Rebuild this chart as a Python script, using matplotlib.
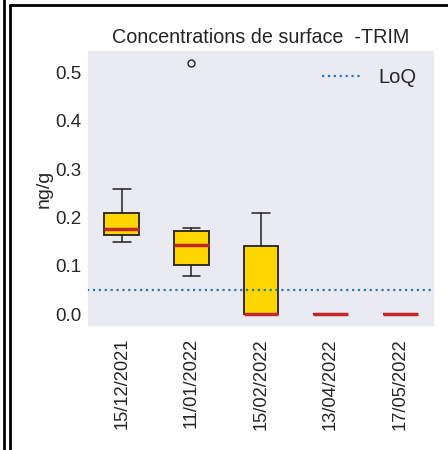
import matplotlib
matplotlib.use("Agg")
import matplotlib.pyplot as plt
import seaborn as sns
from matplotlib.lines import Line2D

dates = ["15/12/2021", "11/01/2022", "15/02/2022", "13/04/2022", "17/05/2022"]
whislo = [0.15, 0.08, 0.0, 0.0, 0.0]
q1 = [0.163, 0.102, 0.0, 0.0, 0.0]
med = [0.177, 0.144, 0.0, 0.0, 0.0]
q3 = [0.21, 0.172, 0.142, 0.0, 0.0]
whishi = [0.26, 0.179, 0.21, 0.0, 0.0]
fliers = [[], [0.52], [], [], []]
loq = 0.05

sns.set_theme(style="dark")
plt.rcParams['font.family'] = ['Liberation Sans', 'DejaVu Sans']

fig = plt.figure(figsize=(4.48, 4.5), dpi=100)
ax = fig.add_axes([87/448, 1-327/450, 348/448, 277/450])

stats = []
for i, d in enumerate(dates):
    stats.append(dict(label=d, whislo=whislo[i], q1=q1[i], med=med[i], q3=q3[i],
                      whishi=whishi[i], fliers=fliers[i]))

ax.bxp(stats, patch_artist=True,
       boxprops=dict(facecolor='#FFD700', edgecolor='#222222', linewidth=1.3),
       medianprops=dict(color='#C0282A', linewidth=2.5),
       whiskerprops=dict(color='#222222', linewidth=1.1),
       capprops=dict(color='#222222', linewidth=1.1),
       flierprops=dict(marker='o', markerfacecolor='none', markeredgecolor='#222222', markersize=5))

ax.axhline(loq, color='#2878B5', linestyle=':', linewidth=1.6, label='LoQ')
ax.set_ylim(-0.026, 0.546)
ax.set_xlim(0.5, 5.5)
ax.set_yticks([0.0, 0.1, 0.2, 0.3, 0.4, 0.5])
ax.tick_params(axis='y', labelsize=13.5, pad=4, length=0)
ax.tick_params(axis='x', labelsize=13.2, labelrotation=90, pad=8, length=0)
ax.set_ylabel('ng/g', fontsize=14, labelpad=2)
ax.set_title('Concentrations de surface  -TRIM', fontsize=14.2, pad=5)
ax.legend(loc='upper right', frameon=False, fontsize=14.5, handlelength=2.0)

fig.add_artist(Line2D([4/448, 4/448], [0, 1], transform=fig.transFigure, color='black', linewidth=2))
fig.add_artist(Line2D([9.5/448, 9.5/448], [0, 1 - 5/450], transform=fig.transFigure, color='black', linewidth=2))
fig.add_artist(Line2D([9.5/448, 1], [1 - 5/450, 1 - 5/450], transform=fig.transFigure, color='black', linewidth=2))

fig.savefig('out.png', dpi=100)
